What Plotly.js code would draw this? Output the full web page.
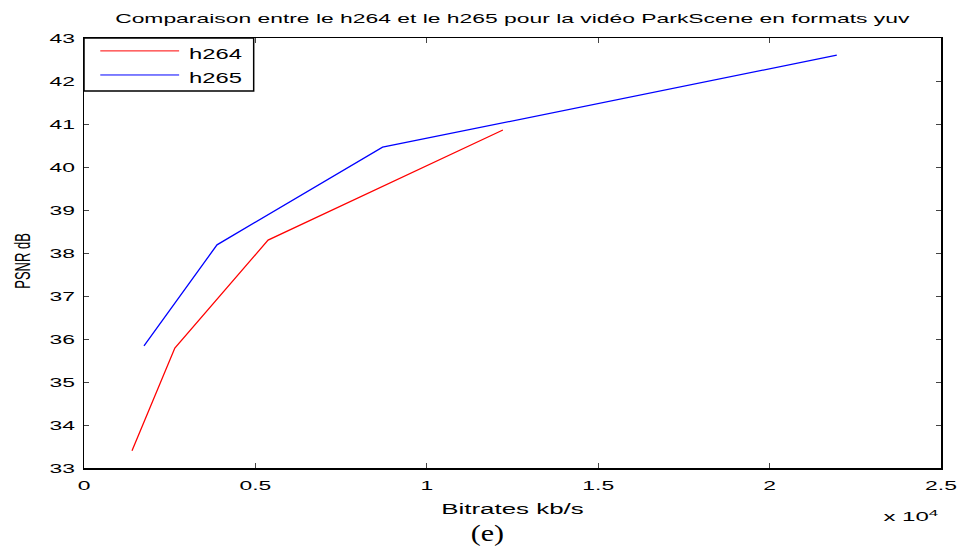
<!DOCTYPE html>
<html>
<head>
<meta charset="utf-8">
<script src="https://cdn.plot.ly/plotly-3.0.1.min.js"></script>
<style>
html,body{margin:0;padding:0;background:#fff;}
#chart{width:962px;height:548px;}
</style>
</head>
<body>
<div id="chart"></div>
<script>
// ---- data ----
const seriesNames = ["h264", "h265"];
const h264Bitrate = [1400, 2650, 5370, 12220];
const h264Psnr    = [33.40, 35.79, 38.30, 40.86];
const h265Bitrate = [1750, 3880, 8710, 21960];
const h265Psnr    = [35.84, 38.19, 40.46, 42.60];
const xTickVals   = [0, 5000, 10000, 15000, 20000, 25000];
const xTickText   = ["0", "0.5", "1", "1.5", "2", "2.5"];
const yTickVals   = [33, 34, 35, 36, 37, 38, 39, 40, 41, 42, 43];
const titleText   = "Comparaison entre le h264 et le h265 pour la vidéo ParkScene en formats yuv";
const xTitleText  = "Bitrates kb/s";
const yTitleText  = "PSNR dB";
const scaleText   = "x 10<sup>4</sup>";
const captionText = "(e)";
const colors      = ["rgb(255,0,0)", "rgb(0,0,255)"];

const FONT = "Liberation Sans, Arial, Helvetica, sans-serif";

const traces = [
  {x: h264Bitrate, y: h264Psnr, name: seriesNames[0], type: "scatter", mode: "lines",
   line: {color: colors[0], width: 1.3}, showlegend: false},
  {x: h265Bitrate, y: h265Psnr, name: seriesNames[1], type: "scatter", mode: "lines",
   line: {color: colors[1], width: 1.3}, showlegend: false}
];

// legend box drawn in paper coords
const legX1 = 0.198, legY0 = 0.877;
const shapes = [
  {type: "rect", xref: "paper", yref: "paper", x0: 0, x1: legX1, y0: legY0, y1: 1,
   line: {color: "black", width: 1.5}, fillcolor: "white", layer: "above"},
  {type: "line", xref: "paper", yref: "paper", x0: 0.019, x1: 0.111, y0: 0.970, y1: 0.970,
   line: {color: colors[0], width: 1}, layer: "above"},
  {type: "line", xref: "paper", yref: "paper", x0: 0.019, x1: 0.111, y0: 0.914, y1: 0.914,
   line: {color: colors[1], width: 1}, layer: "above"}
];

const annotations = [
  {xref: "paper", yref: "paper", x: 0.154, y: 0.962, xanchor: "center", yanchor: "middle",
   text: seriesNames[0], showarrow: false, font: {family: FONT, size: 14, color: "black"}},
  {xref: "paper", yref: "paper", x: 0.154, y: 0.906, xanchor: "center", yanchor: "middle",
   text: seriesNames[1], showarrow: false, font: {family: FONT, size: 14, color: "black"}},
  {xref: "paper", yref: "paper", x: 0.965, y: -0.112, xanchor: "center", yanchor: "middle",
   text: scaleText, showarrow: false, font: {family: FONT, size: 13, color: "black"}},
  {xref: "paper", yref: "paper", x: 0.471, y: -0.186, xanchor: "center", yanchor: "bottom",
   text: captionText, showarrow: false, font: {family: "Liberation Serif, Times New Roman, serif", size: 24, color: "black"}}
];

const axisCommon = {
  showgrid: false, zeroline: false, showline: true, linecolor: "black", linewidth: 1.5,
  mirror: "ticks", ticks: "inside", ticklen: 5, tickcolor: "#444", tickwidth: 1,
  ticklabelstandoff: 5,
  tickfont: {family: FONT, size: 13, color: "black"}
};

const layout = {
  width: 962, height: 548,
  margin: {l: 84, r: 21, t: 38, b: 80},
  paper_bgcolor: "white", plot_bgcolor: "white",
  title: {text: titleText, font: {family: FONT, size: 13, color: "black"},
          x: 0.5, xref: "paper", y: 1 - 18/548, yanchor: "middle"},
  xaxis: Object.assign({}, axisCommon, {
    range: [0, 25000], tickmode: "array", tickvals: xTickVals, ticktext: xTickText,
    title: {text: xTitleText, font: {family: FONT, size: 14, color: "black"}, standoff: 12}
  }),
  yaxis: Object.assign({}, axisCommon, {
    range: [33, 43], tickmode: "array", tickvals: yTickVals,
    title: {text: yTitleText, font: {family: FONT, size: 13, color: "black"}, standoff: 30}
  }),
  shapes: shapes,
  annotations: annotations,
  showlegend: false
};

// The reference figure is stretched horizontally; stretch each text the same way
function stretchText(gd) {
  const items = gd.querySelectorAll("svg text");
  items.forEach(t => {
    if (t.getAttribute("data-stretched")) return;
    const txt = t.textContent;
    const cls = t.getAttribute("class") || "";
    let s = 1.76, dy = 0;
    if (txt === captionText) s = 1.25;
    else if (cls.indexOf("xtitle") >= 0) s = 1.85;
    else if (cls.indexOf("ytitle") >= 0) { s = 1.76; dy = 8; }
    else if (txt === seriesNames[0] || txt === seriesNames[1]) s = 1.7;
    else if (txt.indexOf("x 10") === 0) s = 1.85;
    const r = t.getBoundingClientRect();
    if (!r.width) return;
    const anchor = t.getAttribute("text-anchor") || "start";
    const old = t.getAttribute("transform") || "";
    const rot = old.indexOf("rotate") >= 0;
    let X;
    if (rot || anchor === "middle") X = r.left + r.width / 2;
    else if (anchor === "end") X = r.right;
    else X = r.left;
    const m = t.parentNode.getScreenCTM();
    const Xp = (X - m.e) / m.a;
    t.setAttribute("transform", "translate(" + Xp + "," + dy + ") scale(" + s + ",1) translate(" + (-Xp) + ",0) " + old);
    t.setAttribute("data-stretched", "1");
  });
}

Plotly.newPlot("chart", traces, layout, {displayModeBar: false, staticPlot: true})
  .then(gd => stretchText(gd));
</script>
</body>
</html>
